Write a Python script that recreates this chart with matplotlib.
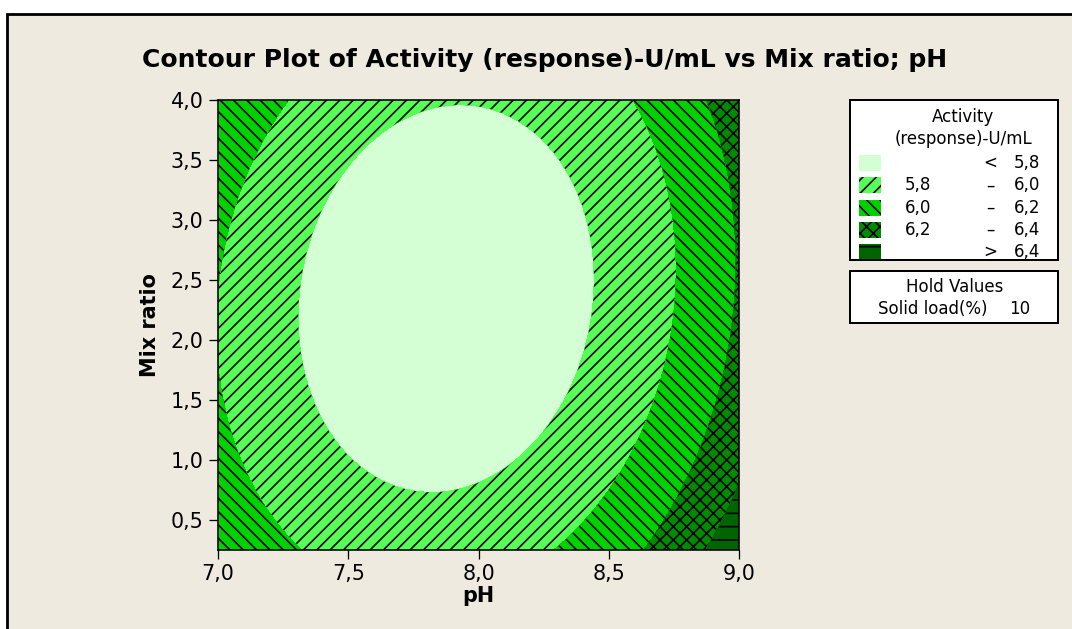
import numpy as np
import matplotlib as mpl
mpl.use('Agg')
import matplotlib.pyplot as plt
from matplotlib.patches import Rectangle
from matplotlib.ticker import FuncFormatter, MultipleLocator

# 80 dpi keeps the hatch pitch close to 13 px
DPI = 80
W, H = 1072, 629

mpl.rcParams['hatch.color'] = 'black'
mpl.rcParams['hatch.linewidth'] = 1.5
plt.rcParams['font.family'] = ['DejaVu Sans']

# contour levels of Activity (response)-U/mL and their fills
levels = [5.8, 6.0, 6.2, 6.4]
zone_colors = ['#d4ffd4', '#55ff55', '#00d200', '#008c00', '#006400']
zone_hatches = ['', '//', '\\\\', 'xx', '-']

hold_name = 'Solid load(%)'
hold_value = '10'

# traced contour lines: (pH, mix ratio) pairs for each level
ph_58 = [7.90, 7.69, 8.13, 8.32, 8.40, 8.415, 8.39, 8.31, 8.16, 8.005, 7.79, 7.56, 7.39, 7.32, 7.34, 7.43]
mr_58 = [3.975, 3.82, 3.875, 3.48, 2.98, 2.43, 1.98, 1.60, 1.18, 0.875, 0.775, 0.96, 1.40, 2.10, 2.79, 3.21]

ph_60 = [7.257, 7.16, 7.10, 7.046, 7.015, 7.02, 7.12, 7.29,
         8.61, 8.70, 8.735, 8.72, 8.67, 8.58, 8.455, 8.26]
mr_60 = [4.0, 3.67, 3.25, 2.89, 2.44, 1.30, 0.80, 0.27,
         3.98, 3.35, 2.65, 2.23, 1.65, 1.125, 0.71, 0.27]

ph_62 = [8.89, 8.94, 8.97, 8.98, 8.96, 8.92, 8.84, 8.735, 8.65]
mr_62 = [3.98, 3.48, 2.93, 2.37, 1.82, 1.40, 0.98, 0.57, 0.27]

ph_64 = [8.99, 8.90, 8.84]
mr_64 = [0.93, 0.54, 0.27]

traces = [(5.8, ph_58, mr_58, 1.0), (6.0, ph_60, mr_60, 1.0),
          (6.2, ph_62, mr_62, 4.0), (6.4, ph_64, mr_64, 2.0)]

# second order response surface through the traced points
px, py, pz, pw = [], [], [], []
for lvl, xs, ys, w in traces:
    px += xs
    py += ys
    pz += [lvl] * len(xs)
    pw += [w] * len(xs)
px = np.array(px) - 8.0
py = np.array(py) - 2.0
pw = np.array(pw)
A = np.column_stack([np.ones_like(px), px, py, px**2, py**2, px * py])
coef, *_ = np.linalg.lstsq(A * pw[:, None], np.array(pz) * pw, rcond=None)

ph = np.linspace(7.0, 9.0, 500)
ratio = np.linspace(0.25, 4.0, 500)
PH, MR = np.meshgrid(ph, ratio)
x, y = PH - 8.0, MR - 2.0
Z = coef[0] + coef[1]*x + coef[2]*y + coef[3]*x**2 + coef[4]*y**2 + coef[5]*x*y

fig = plt.figure(figsize=(W / DPI, H / DPI), dpi=DPI)
fig.patch.set_facecolor('white')

def fx(p):
    return p / W

def fy(p):
    return 1 - p / H

def pt(p):
    # pixel sizes to points
    return p * 72.0 / DPI

# beige panel with its black border on the top and left
fig.patches.append(Rectangle((fx(7), -0.2), 1.3, fy(14) + 0.2, transform=fig.transFigure,
                             facecolor='#eeeae0', edgecolor='black', linewidth=pt(2.8), zorder=-10))

ax = fig.add_axes([fx(218), fy(550), fx(739) - fx(218), fy(100) - fy(550)])
bounds = [min(Z.min(), levels[0]) - 1] + levels + [max(Z.max(), levels[-1]) + 1]
ax.contourf(PH, MR, Z, levels=bounds, colors=zone_colors, hatches=zone_hatches)
ax.set_xlim(7.0, 9.0)
ax.set_ylim(0.25, 4.0)
ax.xaxis.set_major_locator(MultipleLocator(0.5))
ax.yaxis.set_major_locator(MultipleLocator(0.5))
comma = FuncFormatter(lambda v, pos: ('%.1f' % v).replace('.', ','))
ax.xaxis.set_major_formatter(comma)
ax.yaxis.set_major_formatter(comma)
ax.tick_params(direction='out', length=pt(9), width=pt(1.3), labelsize=pt(20.8),
               pad=pt(5.5), colors='black')
for s in ax.spines.values():
    s.set_linewidth(pt(1.6))
ax.set_xlabel('pH', fontsize=pt(20.8), fontweight='bold', labelpad=pt(1.5))
ax.set_ylabel('Mix ratio', fontsize=pt(20.8), fontweight='bold', labelpad=pt(11))

fig.text(fx(545), fy(60), 'Contour Plot of Activity (response)-U/mL vs Mix ratio; pH',
         ha='center', va='center', fontsize=pt(25), fontweight='bold')

# legend panel
def box(x0, y0, x1, y1):
    fig.patches.append(Rectangle((fx(x0), fy(y1)), fx(x1) - fx(x0), fy(y0) - fy(y1),
                                 transform=fig.transFigure, facecolor='white',
                                 edgecolor='black', linewidth=pt(2)))

def fmt(v):
    return ('%.1f' % v).replace('.', ',')

box(850, 100, 1058, 260)
fs = pt(16.7)
fig.text(fx(963), fy(117), 'Activity', ha='center', va='center', fontsize=fs)
fig.text(fx(963), fy(139), '(response)-U/mL', ha='center', va='center', fontsize=fs)
rows = [('', '<', fmt(levels[0]))]
for lo, hi in zip(levels[:-1], levels[1:]):
    rows.append((fmt(lo), '\u2013', fmt(hi)))
rows.append(('', '>', fmt(levels[-1])))
for i, (lo, sign, hi) in enumerate(rows):
    yc = 163 + i * 22.3
    fig.patches.append(Rectangle((fx(859), fy(yc + 8)), fx(881) - fx(859), fy(yc - 8) - fy(yc + 8),
                                 transform=fig.transFigure, facecolor=zone_colors[i],
                                 hatch=zone_hatches[i], linewidth=0))
    fig.text(fx(905), fy(yc), lo, ha='left', va='center', fontsize=fs)
    fig.text(fx(990), fy(yc), sign, ha='center', va='center', fontsize=fs)
    fig.text(fx(1040), fy(yc), hi, ha='right', va='center', fontsize=fs)

box(850, 271, 1058, 323)
fig.text(fx(955), fy(287), 'Hold Values', ha='center', va='center', fontsize=fs)
fig.text(fx(878), fy(309), hold_name, ha='left', va='center', fontsize=fs)
fig.text(fx(1030), fy(309), hold_value, ha='right', va='center', fontsize=fs)

fig.savefig('out.png', dpi=DPI, facecolor=fig.get_facecolor())
